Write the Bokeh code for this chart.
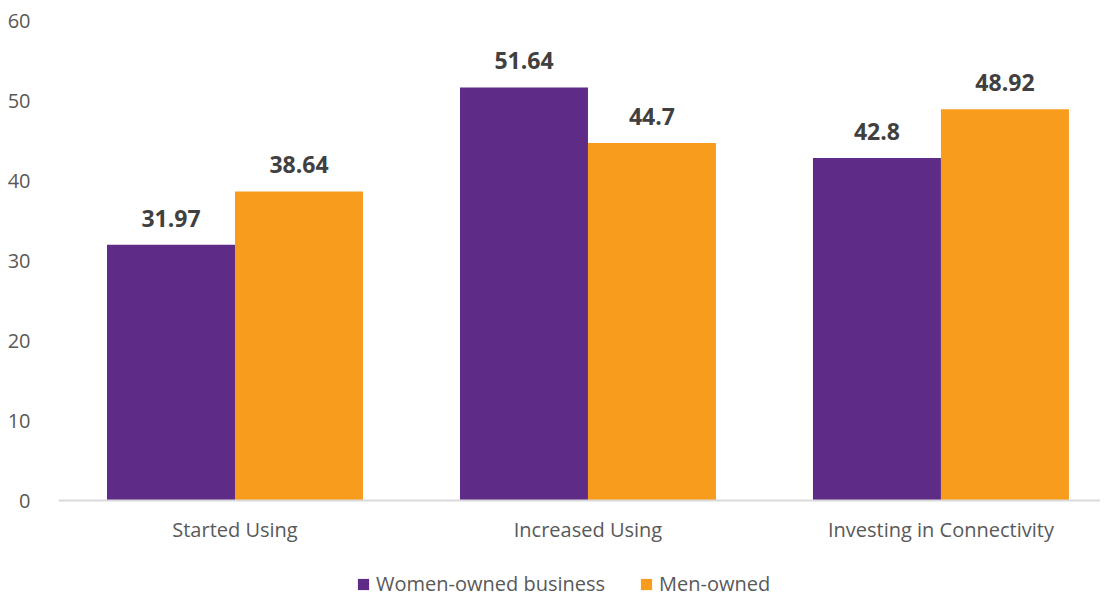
from bokeh.plotting import figure
from bokeh.models import ColumnDataSource, FixedTicker, Legend, LegendItem, Range1d
from bokeh.core.properties import value
from bokeh.embed import file_html
from bokeh.resources import INLINE

categories = ["Started Using", "Increased Using", "Investing in Connectivity"]
women_owned = [31.97, 51.64, 42.8]
men_owned = [38.64, 44.7, 48.92]
series_names = ["Women-owned business", "Men-owned"]
colors = ["#5E2B86", "#F89C1E"]
y_ticks = [0, 10, 20, 30, 40, 50, 60]

centers = [i + 0.5 for i in range(len(categories))]
bw = 0.3626
off = bw / 2

p = figure(frame_width=1042, frame_height=579, output_backend="svg", toolbar_location=None,
           x_range=Range1d(0, 2.952), y_range=Range1d(-12.375, 60))
p.min_border_left = 58
p.min_border_right = 0
p.min_border_top = 20
p.min_border_bottom = 0
p.outline_line_color = None
p.xgrid.visible = False
p.ygrid.visible = False

renderers = []
for vals, shift, col in [(women_owned, -off, colors[0]), (men_owned, off, colors[1])]:
    src = ColumnDataSource(dict(x=[c + shift for c in centers], top=vals,
                                label=[f"{v:g}" for v in vals]))
    r = p.vbar(x="x", top="top", bottom=0, width=bw, source=src, fill_color=col, line_color=None)
    renderers.append(r)
    p.text(x="x", y="top", text="label", source=src, text_align="center",
           text_baseline="bottom", y_offset=-18, text_font_size="23px",
           text_font=value("Open Sans"),
           text_font_style="bold", text_color="#404040")

p.yaxis.ticker = FixedTicker(ticks=y_ticks)
p.yaxis.axis_line_color = None
p.yaxis.major_tick_line_color = None
p.yaxis.minor_tick_line_color = None
p.yaxis.major_label_standoff = 22
p.yaxis.major_label_text_font = "Open Sans"
p.yaxis.major_label_text_font_size = "20px"
p.yaxis.major_label_text_color = "#595959"

p.xaxis.fixed_location = 0
p.xaxis.ticker = FixedTicker(ticks=centers)
p.xaxis.major_label_overrides = {c: n for c, n in zip(centers, categories)}
p.xaxis.axis_line_color = "#D9D9D9"
p.xaxis.axis_line_width = 2
p.xaxis.major_tick_line_color = None
p.xaxis.minor_tick_line_color = None
p.xaxis.major_label_standoff = 9
p.xaxis.major_label_text_font = "Open Sans"
p.xaxis.major_label_text_font_size = "20px"
p.xaxis.major_label_text_color = "#595959"

legend = Legend(items=[LegendItem(label=series_names[0], renderers=[renderers[0]]),
                       LegendItem(label=series_names[1], renderers=[renderers[1]])],
                orientation="horizontal", location=(298, 2))
legend.glyph_width = 14
legend.glyph_height = 14
legend.label_text_font = "Open Sans"
legend.label_text_font_size = "20px"
legend.label_text_color = "#595959"
legend.label_standoff = 6
legend.spacing = 34
legend.border_line_color = None
legend.background_fill_alpha = 0
legend.padding = 2
legend.margin = 0
p.add_layout(legend, "center")

open("out.html", "w").write(file_html(p, INLINE))
